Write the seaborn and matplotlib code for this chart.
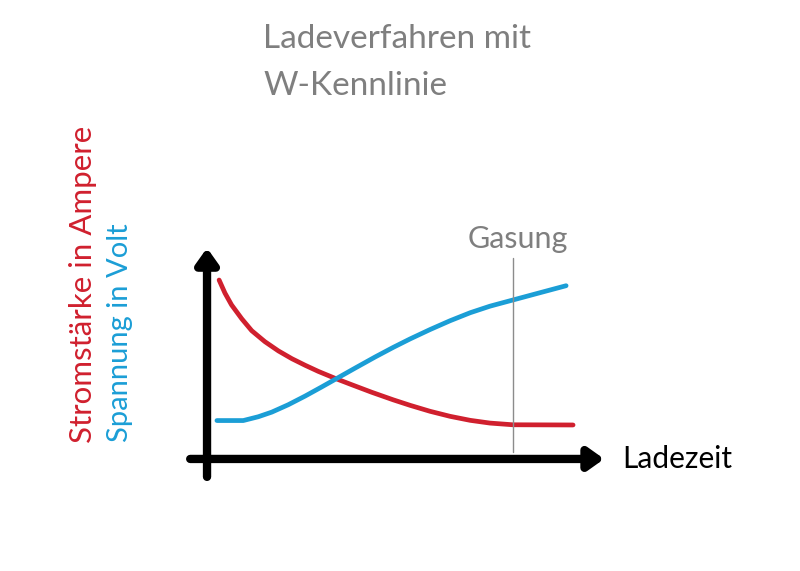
import matplotlib
matplotlib.use("Agg")
import matplotlib.pyplot as plt
import pandas as pd
import seaborn as sns

zeit_strom = [0.33, 0.49, 0.67, 0.95, 1.22, 1.58, 1.95, 2.32, 2.68, 3.04, 3.50, 3.95,
              4.50, 5.09, 5.55, 6.09, 6.64, 7.19, 7.73, 8.35, 10.0]
strom = [8.48, 7.86, 7.30, 6.64, 6.08, 5.56, 5.12, 4.75, 4.44, 4.15, 3.82, 3.52,
         3.16, 2.80, 2.54, 2.26, 2.02, 1.83, 1.70, 1.62, 1.61]

zeit_spannung = [0.27, 0.99, 1.40, 1.77, 2.22, 2.68, 3.13, 3.59, 4.04, 4.59, 5.09,
                 5.55, 6.09, 6.64, 7.19, 7.73, 8.35, 9.10, 9.81]
spannung = [1.82, 1.82, 2.00, 2.22, 2.57, 2.98, 3.41, 3.86, 4.30, 4.83, 5.29,
            5.69, 6.13, 6.55, 6.93, 7.24, 7.53, 7.88, 8.21]

gasung_zeit = 8.36
titel_zeilen = ["Ladeverfahren mit", "W-Kennlinie"]
label_strom = "Stromstärke in Ampere"
label_spannung = "Spannung in Volt"
label_zeit = "Ladezeit"

ROT = "#d0202e"
BLAU = "#1b9ed6"
GRAU = "#7f7f7f"

df_strom = pd.DataFrame({"Zeit": zeit_strom, "Wert": strom})
df_spannung = pd.DataFrame({"Zeit": zeit_spannung, "Wert": spannung})

sns.set_style("white")
plt.rcParams["font.family"] = ["Lato", "DejaVu Sans"]

fig = plt.figure(figsize=(8, 5.71), dpi=100)
ax = fig.add_axes([0, 0, 1, 1])
ax.set_xlim(-5.656, 16.20)
ax.set_ylim(-5.31, 21.75)
ax.axis("off")

sns.lineplot(data=df_strom, x="Zeit", y="Wert", color=ROT, lw=3.4, ax=ax, sort=False)
sns.lineplot(data=df_spannung, x="Zeit", y="Wert", color=BLAU, lw=3.4, ax=ax, sort=False)

# Gasungsgrenze
ax.plot([gasung_zeit, gasung_zeit], [0.33, 9.53], color="#8c8c8c", lw=1)
ax.text(gasung_zeit + 0.12, 10.0, "Gasung", color=GRAU, fontsize=22,
        ha="center", va="baseline")

# Achsen als Pfeile
pfeil = dict(arrowstyle="-|>,head_length=0.45,head_width=0.32", lw=6,
             color="black", shrinkA=0, shrinkB=0, mutation_scale=20)
ax.annotate("", xy=(10.85, 0), xytext=(-0.46, 0), arrowprops=pfeil)
ax.annotate("", xy=(0, 10.0), xytext=(0, -0.85), arrowprops=pfeil)

ax.text(11.34, -0.43, label_zeit, color="black", fontsize=21.5,
        ha="left", va="baseline")

ax.text(0.329, 1 - 48 / 571, titel_zeilen[0], transform=ax.transAxes, color=GRAU,
        fontsize=24, ha="left", va="baseline")
ax.text(0.329, 1 - 95 / 571, titel_zeilen[1], transform=ax.transAxes, color=GRAU,
        fontsize=24, ha="left", va="baseline")

ax.text(0.104, 0.224, label_strom, transform=ax.transAxes, color=ROT,
        fontsize=22.5, rotation=90, ha="center", va="bottom")
ax.text(0.150, 0.226, label_spannung, transform=ax.transAxes, color=BLAU,
        fontsize=21, rotation=90, ha="center", va="bottom")

fig.savefig("out.png", dpi=100)
